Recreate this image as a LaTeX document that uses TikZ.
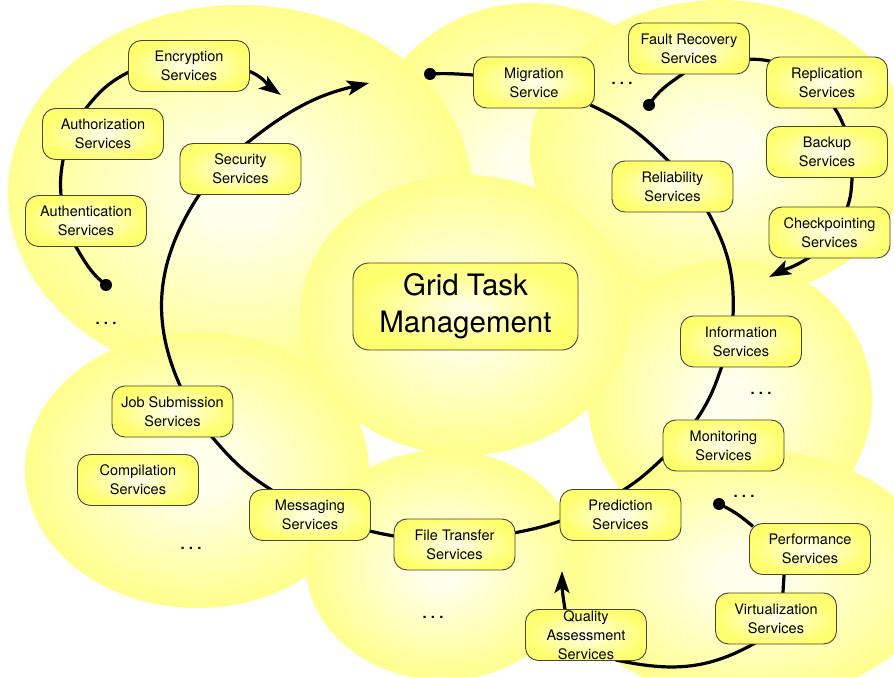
\documentclass[tikz,border=0pt]{standalone}
\usepackage{fontspec}
\setmainfont{TeX Gyre Heros}
\usetikzlibrary{arrows.meta}
\definecolor{blobin}{RGB}{255,255,238}
\definecolor{blobout}{RGB}{255,255,140}
\definecolor{boxin}{RGB}{255,255,236}
\definecolor{boxout}{RGB}{255,255,110}
\definecolor{boxline}{RGB}{70,70,50}
\pgfdeclareradialshading{blobshade}{\pgfpoint{0bp}{0bp}}{color(0bp)=(blobin); color(4bp)=(blobin); color(25bp)=(blobout); color(50bp)=(blobout)}
\pgfdeclareradialshading{boxshade}{\pgfpoint{0bp}{0bp}}{color(0bp)=(boxin); color(25bp)=(boxout); color(50bp)=(boxout)}
\pgfdeclarelayer{bg}
\pgfdeclarelayer{wires}
\pgfsetlayers{bg,wires,main}
\newcommand\dotsrow{.\hspace{4.2pt}.\hspace{4.2pt}.}
\tikzset{
  svc/.style={draw=boxline, line width=0.9pt, rounded corners=13pt, shade, shading=boxshade,
    minimum width=121pt, minimum height=51pt, inner sep=1pt, align=center,
    font=\fontsize{14.5}{19}\selectfont},
  bigbox/.style={svc, minimum width=225pt, minimum height=87pt, rounded corners=16pt,
    font=\fontsize{29.5}{37}\selectfont},
  blob/.style={shade, shading=blobshade},
  wire/.style={line width=3.2pt, black},
  arrowend/.style={-{Stealth[length=22pt,width=15pt,inset=5pt]}},
  endpt/.style={circle, fill=black, inner sep=0pt, minimum size=12pt},
  ellip/.style={inner sep=0pt, font=\fontsize{15}{15}\selectfont\bfseries},
  in2/.style={shorten <=-5pt, shorten >=-5pt}
}
\begin{document}
\begin{tikzpicture}[x=1pt,y=1pt]
\useasboundingbox (0,0) rectangle (894,677);
\begin{pgfonlayer}{bg}
  \fill[white] (0,0) rectangle (894,677);
  \shade[blob] (530,504) ellipse [x radius=170pt, y radius=170pt];
  \shade[blob] (240,484) ellipse [x radius=232pt, y radius=188pt];
  \shade[blob] (720,527) ellipse [x radius=190pt, y radius=150pt];
  \shade[blob] (730,277) ellipse [x radius=142pt, y radius=140pt];
  \shade[blob] (750,102) ellipse [x radius=185pt, y radius=125pt];
  \shade[blob] (197,207) ellipse [x radius=172pt, y radius=138pt];
  \shade[blob] (443,112) ellipse [x radius=137pt, y radius=115pt];
  \shade[blob] (465,362) ellipse [x radius=165pt, y radius=140pt];
\end{pgfonlayer}

% service boxes
\node[svc] (enc)    at (189,611)     {Encryption\\Services};
\node[svc] (authz)  at (103,543)     {Authorization\\Services};
\node[svc] (authn)  at (86,456)      {Authentication\\Services};
\node[svc] (sec)    at (240.5,508)   {Security\\Services};
\node[bigbox] (grid) at (465.5,370.5) {Grid Task\\Management};
\node[svc] (mig)    at (534,594.5)   {Migration\\Service};
\node[svc] (fault)  at (689,628.5)   {Fault Recovery\\Services};
\node[svc] (repl)   at (827,594.5)   {Replication\\Services};
\node[svc] (backup) at (827,525)     {Backup\\Services};
\node[svc] (check)  at (829.5,444.5) {Checkpointing\\Services};
\node[svc] (rel)    at (672.5,490.5) {Reliability\\Services};
\node[svc] (info)   at (741,335.5)   {Information\\Services};
\node[svc] (mon)    at (723.5,231.5) {Monitoring\\Services};
\node[svc] (pred)   at (620.5,162)   {Prediction\\Services};
\node[svc] (perf)   at (810,128)     {Performance\\Services};
\node[svc] (virt)   at (776,58.5)    {Virtualization\\Services};
\node[svc] (qual)   at (586,42)      {Quality\\Assessment\\Services};
\node[svc] (file)   at (454.5,132.5) {File Transfer\\Services};
\node[svc] (msg)    at (310,162)     {Messaging\\Services};
\node[svc] (job)    at (172.5,265.5) {Job Submission\\Services};
\node[svc] (comp)   at (138,197)     {Compilation\\Services};

% ellipses
\node[ellip] (m1) at (106,354) {\dotsrow};
\node[ellip] (m2) at (622,594) {\dotsrow};
\node[ellip] (m3) at (761,284) {\dotsrow};
\node[ellip] (m4) at (744,181) {\dotsrow};
\node[ellip] (m5) at (191,129) {\dotsrow};
\node[ellip] (m6) at (433,60)  {\dotsrow};

% start dots and arrow tips
\node[endpt] (d1) at (106,392) {};
\node[endpt] (d2) at (430,603) {};
\node[endpt] (d3) at (649,572) {};
\node[endpt] (d4) at (719,173) {};
\coordinate (a1) at (281,582);
\coordinate (a2) at (369,594);
\coordinate (a3) at (769,400);
\coordinate (a4) at (562,106);

\begin{pgfonlayer}{wires}
  % main ring
  \draw[wire, shorten >=-5pt] (d2.center) to[out=3,in=176] (mig.173);
  \draw[wire,in2] (mig.-22) to[out=-25,in=135] (rel.100);
  \draw[wire,in2] (rel.-36.5) to[out=-61,in=87] (info.107);
  \draw[wire,in2] (info.-127) to[out=-109,in=55] (mon.136);
  \draw[wire,in2] (mon.-168) to[out=-137,in=32] (pred.80);
  \draw[wire,in2] (pred.186) to[out=-161,in=11] (file.11);
  \draw[wire,in2] (file.172) to[out=171,in=-13] (msg.-15);
  \draw[wire,in2] (msg.147) to[out=148,in=-50] (job.-33);
  \draw[wire,in2] (job.74) to[out=115,in=-124] (sec.-148.5);
  \draw[wire,arrowend,shorten <=-5pt] (sec.76) to[out=39,in=193] (a2);
  % security cluster
  \draw[wire, shorten >=-5pt] (d1.center) to[out=142,in=-60] (authn.-111);
  \draw[wire,in2] (authn.134) to[out=95,in=-101] (authz.-147);
  \draw[wire,in2] (authz.123) to[out=52,in=-154] (enc.186.5);
  \draw[wire,arrowend,shorten <=-5pt] (enc.-5.5) to[out=-20,in=145] (a1);
  % reliability cluster
  \draw[wire, shorten >=-5pt] (d3.center) to[out=57,in=215] (fault.-105);
  \draw[wire,in2] (fault.-10) to[out=-1,in=168] (repl.160);
  \draw[wire,in2] (repl.-73) to[out=-55,in=114] (backup.57);
  \draw[wire,in2] (backup.-46) to[out=-95,in=68] (check.55);
  \draw[wire,arrowend,shorten <=-5pt] (check.-130) to[out=-146,in=26] (a3);
  % performance cluster
  \draw[wire, shorten >=-5pt] (d4.center) to[out=-25,in=140] (perf.157);
  \draw[wire,in2] (perf.-135) to[out=-90,in=90] (virt.75);
  \draw[wire,in2] (virt.-132) to[out=-150,in=-12] (qual.-37);
  \draw[wire,arrowend,shorten <=-5pt] (qual.129) to[out=100,in=-90] (a4);
\end{pgfonlayer}
\end{tikzpicture}
\end{document}
